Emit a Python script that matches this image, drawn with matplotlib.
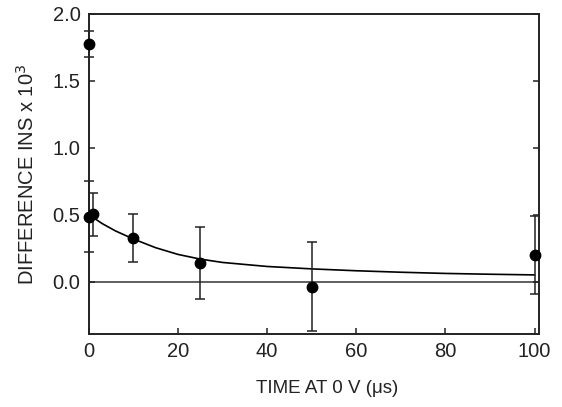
import matplotlib
matplotlib.use("Agg")
import matplotlib.pyplot as plt

plt.rcParams['font.family'] = ['Liberation Sans', 'DejaVu Sans']

# measured points
t_us = [0, 0, 1, 10, 25, 50, 100]
diff = [1.775, 0.485, 0.505, 0.325, 0.14, -0.035, 0.20]
err = [0.095, 0.265, 0.16, 0.18, 0.27, 0.33, 0.29]

# fitted curve
fit_t = [0, 1, 3, 6, 10, 15, 20, 25, 30, 40, 50, 60, 70, 80, 90, 100]
fit_y = [0.50, 0.48, 0.435, 0.38, 0.32, 0.255, 0.205, 0.17, 0.145, 0.115,
         0.097, 0.083, 0.072, 0.063, 0.057, 0.052]

fig = plt.figure(figsize=(5.62, 4.07), dpi=100)
ax = fig.add_axes([0.158, 0.179, 0.801, 0.787])

ax.axhline(0, color='#333333', lw=1.1, zorder=1)
ax.plot(fit_t, fit_y, color='black', lw=1.2, zorder=2)
ax.errorbar(t_us, diff, yerr=err, fmt='o', color='black', ms=7.5,
            ecolor='#222222', elinewidth=1.1, capsize=3.4, capthick=1.1,
            clip_on=False, zorder=3)

ax.set_xlim(0, 101)
ax.set_ylim(-0.39, 2.0)
ax.set_xticks([0, 20, 40, 60, 80, 100])
ax.set_yticks([0.0, 0.5, 1.0, 1.5, 2.0])
ax.set_yticklabels(['0.0', '0.5', '1.0', '1.5', '2.0'])

ax.tick_params(direction='in', length=4, width=1.1, labelsize=14.5,
               colors='#222222', pad=6)
ax.tick_params(axis='y', right=True)
for s in ax.spines.values():
    s.set_linewidth(1.4)
    s.set_color('#222222')

ax.set_xlabel('TIME AT 0 V (\u03bcs)', fontsize=13.5, color='#222222')
ax.set_ylabel('DIFFERENCE INS x 10$^3$', fontsize=14.5, color='#222222')
ax.xaxis.set_label_coords(0.529, -0.143)
ax.yaxis.set_label_coords(-0.113, 0.5)

fig.savefig('out.png', dpi=100)
